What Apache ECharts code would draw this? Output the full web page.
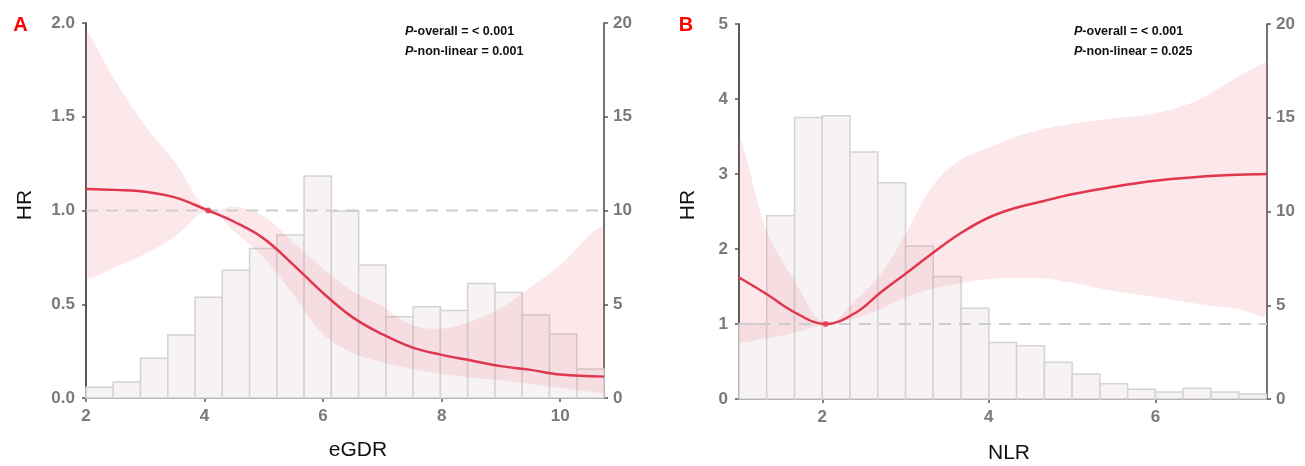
<!DOCTYPE html>
<html>
<head>
<meta charset="utf-8">
<script src="https://cdn.jsdelivr.net/npm/echarts@6/dist/echarts.min.js"></script>
<style>
html,body{margin:0;padding:0;background:#fff;}
#container{width:1305px;height:466px;}
</style>
</head>
<body>
<div id="container"></div>
<script>
// panel A - eGDR
var egdrX     = [2.0, 2.5, 3.0, 3.5, 4.06, 4.5, 5.0, 5.5, 6.0, 6.5, 7.0, 7.5, 8.0, 8.5, 9.0, 9.5, 10.0, 10.74];
var egdrHR    = [1.115, 1.11, 1.10, 1.07, 1.0, 0.94, 0.85, 0.71, 0.56, 0.43, 0.34, 0.27, 0.23, 0.20, 0.17, 0.15, 0.125, 0.114];
var egdrUpper = [1.96, 1.69, 1.45, 1.26, 1.0, 1.02, 0.97, 0.83, 0.69, 0.57, 0.49, 0.39, 0.37, 0.41, 0.48, 0.59, 0.71, 0.90];
var egdrLower = [0.656, 0.70, 0.77, 0.86, 1.0, 0.89, 0.75, 0.55, 0.34, 0.24, 0.19, 0.155, 0.13, 0.11, 0.095, 0.075, 0.055, 0.025];
var egdrEdges = [2.0, 2.46, 2.92, 3.38, 3.84, 4.30, 4.76, 5.22, 5.68, 6.14, 6.60, 7.06, 7.52, 7.98, 8.44, 8.90, 9.36, 9.82, 10.28, 10.74];
var egdrCounts = [0.57, 0.85, 2.12, 3.36, 5.37, 6.81, 7.98, 8.69, 11.84, 9.97, 7.09, 4.34, 4.87, 4.67, 6.11, 5.63, 4.43, 3.41, 1.55];
var egdrRef = [4.06, 1];
var egdrTicks = [2, 4, 6, 8, 10];

// panel B - NLR
var nlrX     = [1.0, 1.33, 1.66, 2.04, 2.4, 2.7, 3.0, 3.33, 3.66, 4.0, 4.33, 4.66, 5.0, 5.5, 6.0, 6.5, 7.0, 7.34];
var nlrHR    = [1.62, 1.40, 1.16, 1.0, 1.15, 1.42, 1.67, 1.95, 2.21, 2.42, 2.55, 2.64, 2.73, 2.83, 2.91, 2.96, 2.99, 3.0];
var nlrUpper = [3.45, 2.25, 1.59, 1.0, 1.32, 1.66, 2.2, 2.85, 3.19, 3.35, 3.5, 3.6, 3.67, 3.74, 3.81, 3.98, 4.3, 4.5];
var nlrLower = [0.74, 0.81, 0.88, 1.0, 1.08, 1.2, 1.36, 1.47, 1.54, 1.60, 1.615, 1.61, 1.55, 1.44, 1.36, 1.27, 1.20, 1.14];
var nlrEdges = [1.0, 1.333, 1.667, 2.0, 2.333, 2.667, 3.0, 3.333, 3.667, 4.0, 4.333, 4.667, 5.0, 5.333, 5.667, 6.0, 6.333, 6.667, 7.0, 7.333];
var nlrCounts = [4.0, 9.77, 15.02, 15.11, 13.17, 11.54, 8.16, 6.54, 4.84, 3.02, 2.84, 1.96, 1.33, 0.82, 0.52, 0.37, 0.57, 0.37, 0.27];
var nlrRef = [2.04, 1];
var nlrTicks = [2, 4, 6];

var red = '#e0374f';
var labelFont = 'Liberation Sans, Arial, sans-serif';

function pairs(xs, ys) {
	return xs.map(function(x, i) { return [x, ys[i]]; });
}
function bins(edges, counts) {
	return counts.map(function(c, i) { return [edges[i], edges[i + 1], c]; });
}
function bandRows(xs, low, up) {
	return xs.map(function(x, i) { return [x, low[i], up[i]]; });
}

function renderBin(params, api) {
	var p0 = api.coord([api.value(0), api.value(2)]);
	var p1 = api.coord([api.value(1), 0]);
	return {
		type: 'rect',
		shape: { x: p0[0], y: p0[1], width: p1[0] - p0[0], height: p1[1] - p0[1] },
		style: { fill: '#f7f3f4', stroke: '#d3d3d3', lineWidth: 1.5 }
	};
}

// whole confidence band drawn once, from every row of the series
function renderBand(params, api) {
	if (params.dataIndexInside !== 0) return null;
	var n = params.dataInsideLength;
	var top = [], bottom = [];
	for (var i = 0; i < n; i++) {
		top.push(api.coord([api.value(0, i), api.value(2, i)]));
		bottom.push(api.coord([api.value(0, i), api.value(1, i)]));
	}
	var pts = top.concat(bottom.reverse());
	var minX = Infinity, minY = Infinity, maxX = -Infinity, maxY = -Infinity;
	pts.forEach(function(p) {
		minX = Math.min(minX, p[0]); maxX = Math.max(maxX, p[0]);
		minY = Math.min(minY, p[1]); maxY = Math.max(maxY, p[1]);
	});
	return {
		type: 'polygon',
		shape: { points: pts, smooth: 0.35, smoothConstraint: [[minX, minY], [maxX, maxY]] },
		style: { fill: 'rgba(236,110,132,0.17)' }
	};
}

function xAxisOf(grid, min, max, ticks) {
	return {
		gridIndex: grid, type: 'value', min: min, max: max,
		axisLine: { show: true, onZero: false, lineStyle: { color: '#222', width: 1.5 } },
		axisTick: { show: true, length: 4, customValues: ticks, lineStyle: { color: '#555', width: 1.5 } },
		axisLabel: { customValues: ticks, color: '#7a7a7a', fontWeight: 'bold', fontSize: 17, margin: 10, fontFamily: labelFont },
		splitLine: { show: false }
	};
}
function yAxisOf(grid, pos, max, interval, digits, margin) {
	return {
		gridIndex: grid, type: 'value', position: pos, min: 0, max: max, interval: interval,
		axisLine: { show: true, lineStyle: { color: pos == 'left' ? '#222' : '#444', width: 1.5 } },
		axisTick: { show: true, length: 4, lineStyle: { color: '#555', width: 1.5 } },
		axisLabel: {
			color: '#7a7a7a', fontWeight: 'bold', fontSize: 17, margin: margin, fontFamily: labelFont,
			formatter: function(v) { return v.toFixed(digits); }
		},
		splitLine: { show: false }
	};
}

function panelSeries(g, xs, hr, up, low, edges, counts, ref, xmin, xmax) {
	var yl = g * 2, yr = g * 2 + 1;
	return [
		{ type: 'custom', xAxisIndex: g, yAxisIndex: yr, renderItem: renderBin, encode: { x: [0, 1], y: 2 }, data: bins(edges, counts), silent: true, z: 1 },
		{ type: 'custom', xAxisIndex: g, yAxisIndex: yl, renderItem: renderBand, encode: { x: 0, y: [1, 2] }, data: bandRows(xs, low, up), silent: true, z: 2 },
		{ type: 'line', xAxisIndex: g, yAxisIndex: yl, data: [[xmin, 1], [xmax, 1]], symbol: 'none', lineStyle: { color: '#cdcdcd', width: 2, type: [12, 8] }, silent: true, z: 3 },
		{ type: 'line', xAxisIndex: g, yAxisIndex: yl, data: pairs(xs, hr), smooth: 0.4, symbol: 'none', lineStyle: { color: red, width: 2.5 }, silent: true, z: 4 },
		{ type: 'scatter', xAxisIndex: g, yAxisIndex: yl, data: [ref], symbolSize: 6, itemStyle: { color: red }, silent: true, z: 5 }
	];
}

function pText(x, y, label, value) {
	return {
		type: 'text', left: x, top: y,
		style: {
			text: '{i|P}{n|' + label + ' = ' + value + '}',
			rich: {
				i: { fontStyle: 'italic', fontWeight: 'bold', fontSize: 12.5, fill: '#111', fontFamily: labelFont },
				n: { fontWeight: 'bold', fontSize: 12.5, fill: '#111', fontFamily: labelFont }
			}
		}
	};
}
function plainText(x, y, txt, size, color, weight, rot) {
	return {
		type: 'text', x: x, y: y, rotation: rot || 0,
		style: { text: txt, fontSize: size, fill: color, fontWeight: weight, fontFamily: labelFont, align: 'center', verticalAlign: 'middle' }
	};
}

var dom = document.getElementById('container');
var myChart = echarts.init(dom);
var option = {
	animation: false,
	backgroundColor: '#fff',
	grid: [
		{ left: 86, right: 701, top: 23, bottom: 68 },
		{ left: 739, right: 38, top: 24, bottom: 67 }
	],
	xAxis: [
		xAxisOf(0, 2, 10.74, egdrTicks),
		xAxisOf(1, 1.0, 7.34, nlrTicks)
	],
	yAxis: [
		yAxisOf(0, 'left', 2, 0.5, 1, 11),
		yAxisOf(0, 'right', 20, 5, 0, 9),
		yAxisOf(1, 'left', 5, 1, 0, 11),
		yAxisOf(1, 'right', 20, 5, 0, 9)
	],
	graphic: [
		plainText(20.5, 25, 'A', 20, '#ff0000', 'bold'),
		plainText(686, 25, 'B', 20, '#ff0000', 'bold'),
		plainText(25, 205, 'HR', 21, '#111', 'normal', Math.PI / 2),
		plainText(688, 205, 'HR', 21, '#111', 'normal', Math.PI / 2),
		plainText(358, 450, 'eGDR', 21, '#111', 'normal'),
		plainText(1009, 453, 'NLR', 21, '#111', 'normal'),
		pText(405, 25, '-overall', '< 0.001'),
		pText(405, 45, '-non-linear', '0.001'),
		pText(1074, 25, '-overall', '< 0.001'),
		pText(1074, 45, '-non-linear', '0.025')
	],
	series: [].concat(
		panelSeries(0, egdrX, egdrHR, egdrUpper, egdrLower, egdrEdges, egdrCounts, egdrRef, 2, 10.74),
		panelSeries(1, nlrX, nlrHR, nlrUpper, nlrLower, nlrEdges, nlrCounts, nlrRef, 1.0, 7.34)
	)
};
if (option && typeof option === "object") {
	myChart.setOption(option, true);
}
</script>
</body>
</html>
